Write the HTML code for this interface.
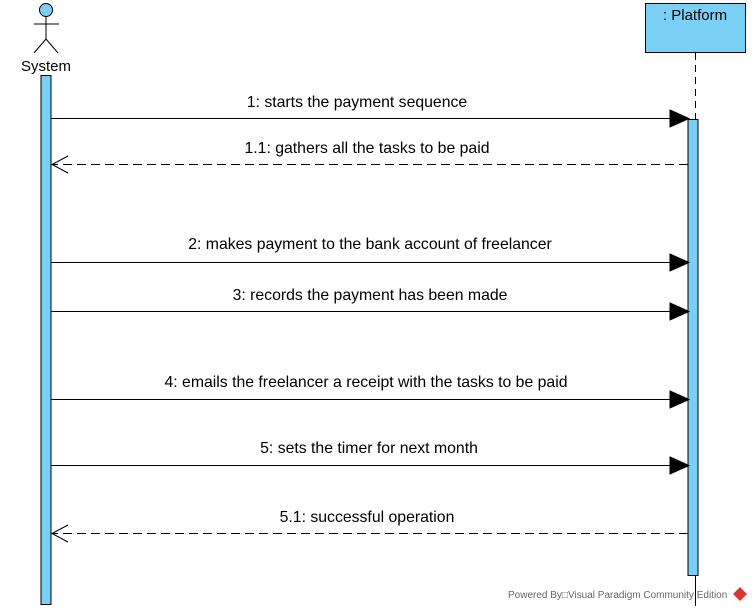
<!DOCTYPE html>
<html><head><style>body{margin:0;background:#fff}</style></head><body>
<svg width="752" height="611" xmlns="http://www.w3.org/2000/svg" font-family="Liberation Sans, sans-serif">
<rect width="752" height="611" fill="#fff"/>
<circle cx="46" cy="10" r="6.5" fill="#7ACFF5" stroke="#000"/>
<line x1="46" y1="16.5" x2="46" y2="39" stroke="#000"/>
<line x1="34" y1="24" x2="59" y2="24" stroke="#000"/>
<line x1="46" y1="39" x2="34" y2="53" stroke="#000"/>
<line x1="46" y1="39" x2="58" y2="53" stroke="#000"/>
<text x="46" y="71" font-size="15" text-anchor="middle">System</text>
<rect x="41" y="75.5" width="10" height="529" fill="#7ACFF5" stroke="#000"/>
<rect x="645.5" y="3.5" width="100" height="49" fill="#7ACFF5" stroke="#000"/>
<text x="695" y="20" font-size="15" text-anchor="middle">: Platform</text>
<line x1="695.5" y1="53" x2="695.5" y2="119" stroke="#000" stroke-dasharray="7,5"/>
<line x1="695.5" y1="576" x2="695.5" y2="606" stroke="#000"/>
<rect x="688" y="119.5" width="10" height="456" fill="#7ACFF5" stroke="#000"/>
<g stroke="#000">
<line x1="51" y1="118.5" x2="672" y2="118.5"/><polygon points="670,110 689,118.5 670,127" fill="#000"/>
<line x1="688" y1="164.5" x2="52" y2="164.5" stroke-dasharray="9,5"/><polyline points="68,156 52,164.5 68,173" fill="none"/>
<line x1="51" y1="262.5" x2="672" y2="262.5"/><polygon points="670,254 689,262.5 670,271" fill="#000"/>
<line x1="51" y1="311.5" x2="672" y2="311.5"/><polygon points="670,303 689,311.5 670,320" fill="#000"/>
<line x1="51" y1="399.5" x2="672" y2="399.5"/><polygon points="670,391 689,399.5 670,408" fill="#000"/>
<line x1="51" y1="465.5" x2="672" y2="465.5"/><polygon points="670,457 689,465.5 670,474" fill="#000"/>
<line x1="688" y1="533.5" x2="52" y2="533.5" stroke-dasharray="9,5"/><polyline points="68,525 52,533.5 68,542" fill="none"/>
</g>
<g font-size="15.8" text-anchor="middle" fill="#000">
<text x="357" y="107">1: starts the payment sequence</text>
<text x="367" y="153">1.1: gathers all the tasks to be paid</text>
<text x="370" y="249">2: makes payment to the bank account of freelancer</text>
<text x="370" y="300">3: records the payment has been made</text>
<text x="366" y="387">4: emails the freelancer a receipt with the tasks to be paid</text>
<text x="369" y="453">5: sets the timer for next month</text>
<text x="367" y="522">5.1: successful operation</text>
</g>
<text x="508" y="598" font-size="10" fill="#666">Powered By□Visual Paradigm Community Edition</text>
<polygon points="740,587 747,594 740,601 733,594" fill="#d33"/>
</svg>
</body></html>
